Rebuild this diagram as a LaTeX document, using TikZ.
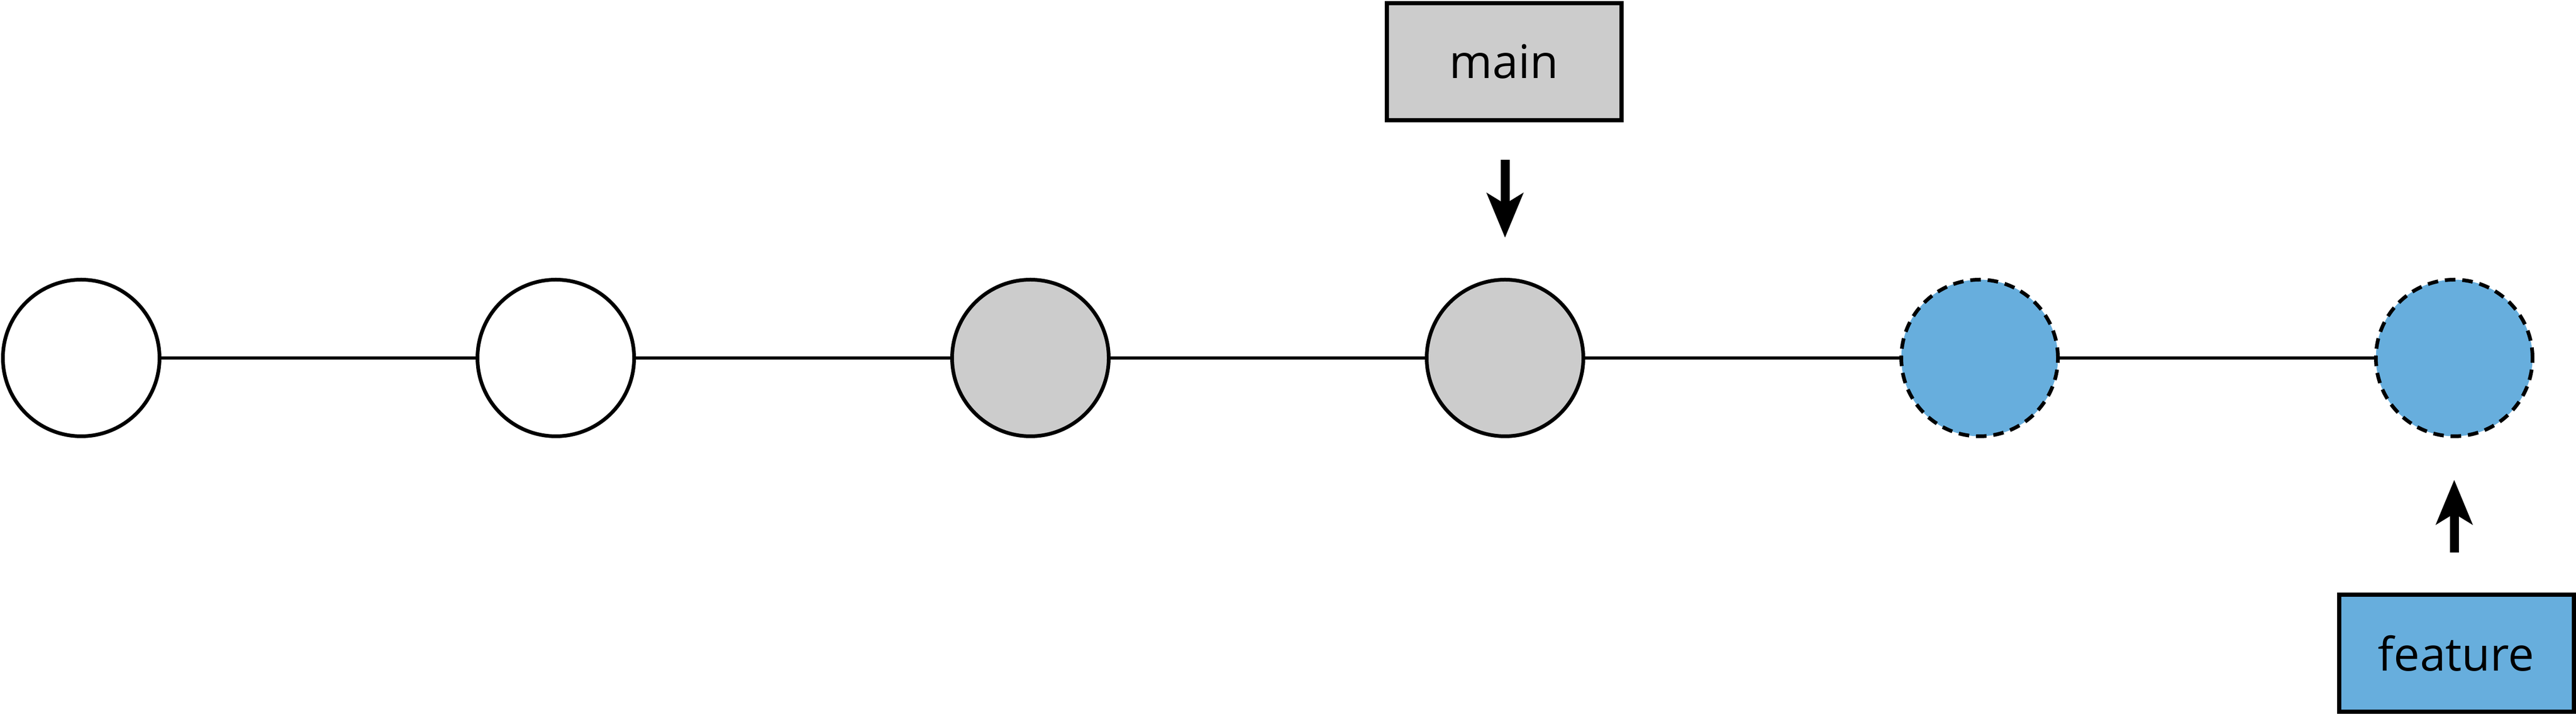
\documentclass[tikz,border=0pt]{standalone}
\usepackage{fontspec}
\setmainfont{Open Sans}
\usetikzlibrary{arrows.meta}
\definecolor{commitgray}{RGB}{204,204,204}
\definecolor{featblue}{RGB}{103,174,221}
\begin{document}
\begin{tikzpicture}[
	commit/.style={draw, circle, line width=0.07cm, minimum size=2.97cm, inner sep=0pt},
	newcommit/.style={commit, fill=featblue, dash pattern=on 0.2cm off 0.13cm},
	branch/.style={draw, line width=0.08cm, minimum width=4.45cm, minimum height=2.22cm, inner sep=0pt, font=\fontsize{25}{30}\selectfont},
	link/.style={line width=0.065cm},
	pointer/.style={line width=0.17cm, -{Stealth[length=0.84cm, width=0.68cm, inset=0.2cm]}}
]
	\useasboundingbox (0,0) rectangle (48.85,13.6);
	%----------------------------------------------------------
	% Commits
	%------------------------------------------------------
	\node[commit] (c1) at (1.54,6.81) {};
	\node[commit] (c2) at (10.54,6.81) {};
	\node[commit, fill=commitgray] (c3) at (19.54,6.81) {};
	\node[commit, fill=commitgray] (c4) at (28.54,6.81) {};
	\node[newcommit] (c5) at (37.54,6.81) {};
	\node[newcommit] (c6) at (46.54,6.81) {};

	%Branches
	%------------------------------------------------------
	\node[branch, fill=commitgray] (main) at (28.52,12.43) {main};
	\node[branch, fill=featblue] (feature) at (46.58,1.21) {feature};

	%Lines
	%------------------------------------------------------
	\draw[link] (c1) -- (c2);
	\draw[link] (c2) -- (c3);
	\draw[link] (c3) -- (c4);
	\draw[link] (c4) -- (c5);
	\draw[link] (c5) -- (c6);

	%Pointers
	%------------------------------------------------------
	\draw[pointer, shorten <=0.71cm, shorten >=0.76cm] (main.south -| c4) -- (c4.north);
	\draw[pointer, shorten <=0.76cm, shorten >=0.79cm] (feature.north -| c6) -- (c6.south);
\end{tikzpicture}
\end{document}
